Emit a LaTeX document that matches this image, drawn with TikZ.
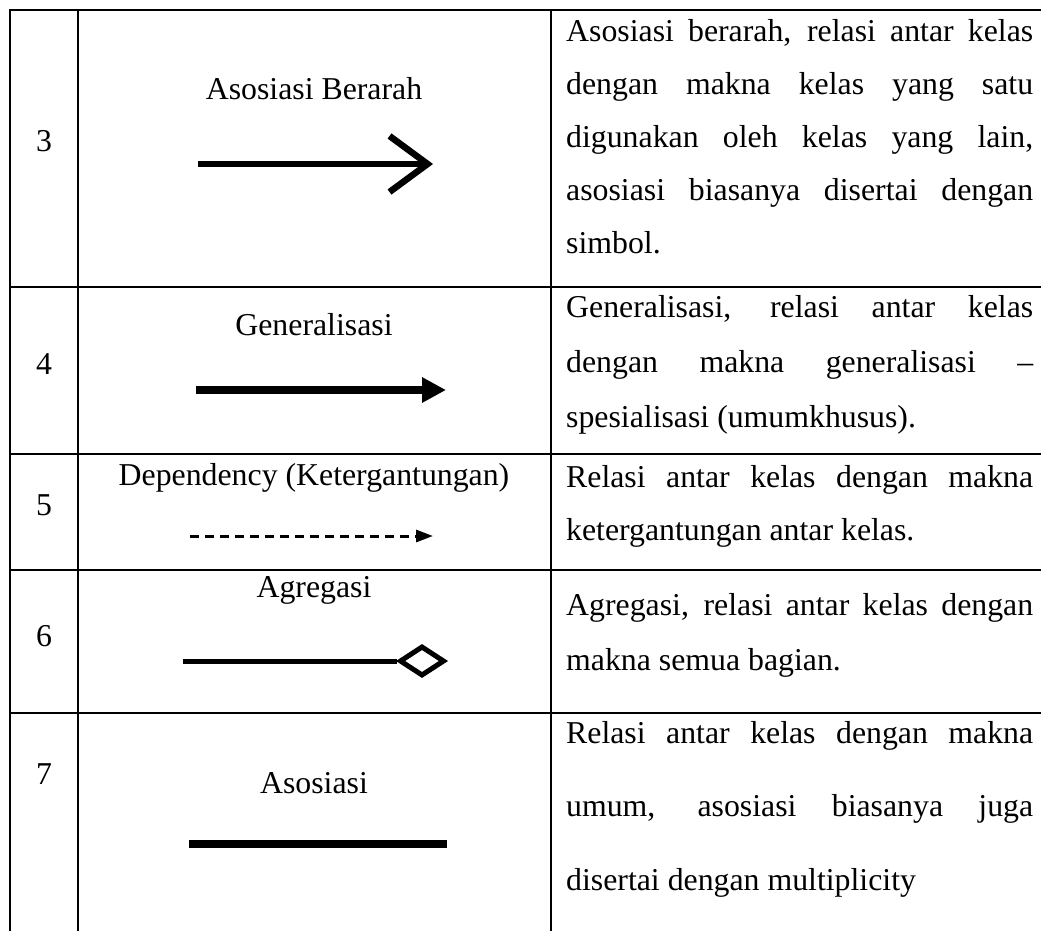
\documentclass[tikz,border=0pt]{standalone}
\usepackage{fontspec}
\setmainfont{Liberation Serif}
\usetikzlibrary{arrows.meta,shapes.geometric}
\newcommand{\txt}{\fontsize{31.8}{53}\selectfont}
\hyphenpenalty=10000

\begin{document}
\begin{tikzpicture}[x=1pt, y=-1pt,
  grid/.style={line width=2pt},
  num/.style={anchor=base, inner sep=0pt, font=\txt},
  lbl/.style={anchor=base, inner sep=0pt, font=\txt},
  desc/.style={anchor=base west, inner sep=0pt, text width=467pt, align=justify, font=\txt}]
\useasboundingbox (0,0) rectangle (1041,931);

% table lines
\draw [grid] (1041,10) -- (10,10) -- (10,931);
\draw [grid] (78,10) -- (78,931);
\draw [grid] (551,10) -- (551,931);
\foreach \y in {287,454,570,713}
  \draw [grid] (10,\y) -- (1041,\y);

% numbers
\node (n3) at (44,152) [num] {3};
\node (n4) at (44,374) [num] {4};
\node (n5) at (44,515) [num] {5};
\node (n6) at (44,646) [num] {6};
\node (n7) at (44,784) [num] {7};

% symbol names
\node (l3) at (314,100) [lbl] {Asosiasi Berarah};
\node (l4) at (314,335) [lbl] {Generalisasi};
\node (l5) at (314,485) [lbl] {Dependency (Ketergantungan)};
\node (l6) at (314,597) [lbl] {Agregasi};
\node (l7) at (314,793) [lbl] {Asosiasi};

% symbols
\coordinate (a3) at (198,164);
\coordinate (b3) at (433,164);
\draw [line width=6.5pt, -{Straight Barb[length=38pt, width=56pt, line width=6.5pt]}] (a3) -> (b3);

\coordinate (a4) at (196,390);
\coordinate (b4) at (446,390);
\draw [line width=8pt, -{Triangle[length=24pt, width=24pt]}] (a4) -> (b4);

\coordinate (a5) at (190,536);
\coordinate (b5) at (433,536);
\draw [line width=3pt, dash pattern=on 9pt off 6pt, -{Triangle[length=17pt, width=12pt]}] (a5) -> (b5);

\node (dia) at (422,661) [diamond, draw, line width=5pt, minimum width=45pt, minimum height=30pt, inner sep=0pt] {};
\coordinate (a6) at (183,661);
\draw [line width=5pt] (a6) -- (dia.west);

\coordinate (a7) at (189,844);
\coordinate (b7) at (447,844);
\draw [line width=8pt] (a7) -- (b7);

% descriptions
\node (d3) at (566,42) [desc] {Asosiasi berarah, relasi antar kelas\linebreak dengan makna kelas yang satu\linebreak digunakan oleh kelas yang lain,\linebreak asosiasi biasanya disertai dengan\linebreak simbol.};
\node (d4) at (566,317) [desc, font=\fontsize{31.8}{55}\selectfont] {Generalisasi, relasi antar kelas\linebreak dengan makna generalisasi –\linebreak spesialisasi (umumkhusus).};
\node (d5) at (566,487) [desc] {Relasi antar kelas dengan makna\linebreak ketergantungan antar kelas.};
\node (d6) at (566,615) [desc, font=\fontsize{31.8}{55}\selectfont] {Agregasi, relasi antar kelas dengan\linebreak makna semua bagian.};
\node (d7) at (566,743) [desc, font=\fontsize{31.8}{73.5}\selectfont] {Relasi antar kelas dengan makna\linebreak umum, asosiasi biasanya juga\linebreak disertai dengan multiplicity};
\end{tikzpicture}
\end{document}
